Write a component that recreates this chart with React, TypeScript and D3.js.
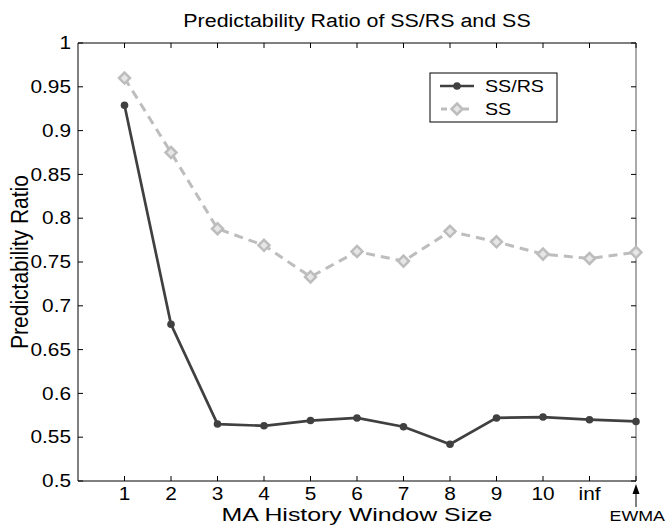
import React from "react";
import * as d3 from "d3";

const xPositions = [1, 2, 3, 4, 5, 6, 7, 8, 9, 10, 11, 12];
const xTickLabels = ["1", "2", "3", "4", "5", "6", "7", "8", "9", "10", "inf", ""];
const ssrsValues = [0.929, 0.679, 0.565, 0.563, 0.569, 0.572, 0.562, 0.542, 0.572, 0.573, 0.57, 0.568];
const ssValues = [0.96, 0.875, 0.788, 0.769, 0.733, 0.762, 0.751, 0.785, 0.773, 0.759, 0.754, 0.761];
const yTicks = [0.5, 0.55, 0.6, 0.65, 0.7, 0.75, 0.8, 0.85, 0.9, 0.95, 1];
const yTickLabels = ["0.5", "0.55", "0.6", "0.65", "0.7", "0.75", "0.8", "0.85", "0.9", "0.95", "1"];

const W = 665, H = 525;
const L = 78, R = 636, T = 43, B = 481;
const FONT = "'Liberation Sans', Arial, sans-serif";
const DARK = "#404040";
const LIGHT = "#bdbdbd";
const SX = 1.19;

function T2({ x, y, size, anchor = "start", sx = SX, dy, children }: any) {
  return (
    <text transform={`translate(${x},${y}) scale(${sx},1)`} textAnchor={anchor} fontSize={size} dy={dy} fill="#000">
      {children}
    </text>
  );
}

export default function App() {
  const x = d3.scaleLinear().domain([0, 12]).range([L, R]);
  const y = d3.scaleLinear().domain([0.5, 1]).range([B, T]);
  const line = d3.line<number>().x((_, i) => x(xPositions[i])).y((d) => y(d));
  const tl = 5;
  const diamond = (cx: number, cy: number, s: number) =>
    `M${cx},${cy - s}L${cx + s},${cy}L${cx},${cy + s}L${cx - s},${cy}Z`;

  return (
    <svg width={W} height={H} style={{ position: "absolute", left: 0, top: 0, background: "#fff" }} fontFamily={FONT}>
      <rect x={0} y={0} width={W} height={H} fill="#fff" />
      {/* axes box */}
      <line x1={L} y1={T} x2={R} y2={T} stroke="#000" strokeWidth={1} />
      <line x1={L} y1={B} x2={R} y2={B} stroke="#000" strokeWidth={1} />
      <line x1={L} y1={T} x2={L} y2={B} stroke="#000" strokeWidth={1} />
      <line x1={R} y1={T} x2={R} y2={B} stroke="#555" strokeWidth={1} />
      {/* y ticks */}
      {yTicks.map((v, i) => (
        <g key={"y" + i}>
          <line x1={L} y1={y(v)} x2={L + tl} y2={y(v)} stroke="#000" />
          <line x1={R} y1={y(v)} x2={R - tl} y2={y(v)} stroke="#000" />
          <T2 x={L - 7} y={y(v)} dy="0.35em" anchor="end" size={17.5}>
            {yTickLabels[i]}
          </T2>
        </g>
      ))}
      {/* x ticks */}
      {xPositions.map((v, i) => (
        <g key={"x" + i}>
          <line x1={x(v)} y1={B} x2={x(v)} y2={B - tl} stroke="#000" />
          <line x1={x(v)} y1={T} x2={x(v)} y2={T + tl} stroke="#000" />
          {xTickLabels[i] && (
            <T2 x={x(v)} y={B + 18.5} anchor="middle" size={17.5}>
              {xTickLabels[i]}
            </T2>
          )}
        </g>
      ))}
      {/* series SS */}
      <path d={line(ssValues) || ""} fill="none" stroke={LIGHT} strokeWidth={3} strokeDasharray="9,6" />
      {ssValues.map((v, i) => (
        <path key={"ss" + i} d={diamond(x(xPositions[i]), y(v), 5.5)} fill="#e6e6e6" stroke={LIGHT} strokeWidth={2.5} />
      ))}
      {/* series SS/RS */}
      <path d={line(ssrsValues) || ""} fill="none" stroke={DARK} strokeWidth={2.7} />
      {ssrsValues.map((v, i) => (
        <circle key={"sr" + i} cx={x(xPositions[i])} cy={y(v)} r={3.8} fill={DARK} />
      ))}
      {/* legend */}
      <rect x={430} y={73} width={127} height={49} fill="#fff" stroke="#000" strokeWidth={1} />
      <line x1={440} y1={86} x2={474} y2={86} stroke={DARK} strokeWidth={2.7} />
      <circle cx={457} cy={86} r={3.8} fill={DARK} />
      <T2 x={485} y={86} dy="0.35em" size={16.5}>SS/RS</T2>
      <line x1={440} y1={109} x2={474} y2={109} stroke={LIGHT} strokeWidth={3} strokeDasharray="6,5" strokeDashoffset={-1} />
      <path d={diamond(457, 109, 5.5)} fill="#e6e6e6" stroke={LIGHT} strokeWidth={2.5} />
      <T2 x={485} y={109} dy="0.35em" size={16.5}>SS</T2>
      {/* title & labels */}
      <T2 x={(L + R) / 2} y={26.5} anchor="middle" size={18}>
        Predictability Ratio of SS/RS and SS
      </T2>
      <T2 x={(L + R) / 2} y={520.5} anchor="middle" size={19} sx={1.31}>
        MA History Window Size
      </T2>
      <text transform={`translate(28,${(T + B) / 2}) rotate(-90) scale(1,1.1)`} textAnchor="middle" fontSize={21} fill="#000">
        Predictability Ratio
      </text>
      {/* EWMA annotation */}
      <line x1={R} y1={507} x2={R} y2={492} stroke="#000" strokeWidth={1} />
      <path d={`M${R},${B + 3}L${R - 3.5},${B + 13}L${R + 3.5},${B + 13}Z`} fill="#000" />
      <T2 x={665} y={521} anchor="end" size={15.5} sx={1.15}>EWMA</T2>
    </svg>
  );
}
